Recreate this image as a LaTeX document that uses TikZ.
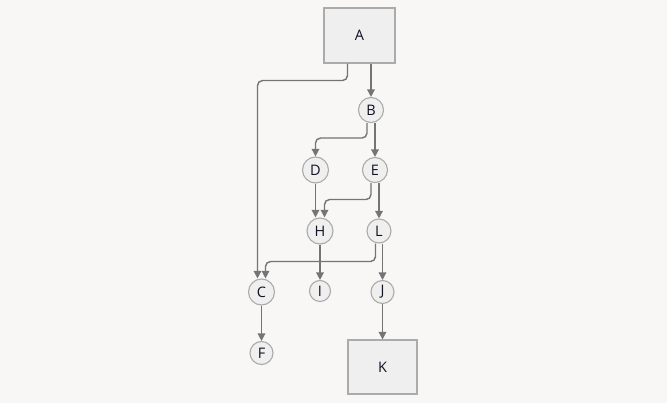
\documentclass[tikz,border=0pt]{standalone}
\usepackage{fontspec}
\setmainfont{Open Sans}
\usetikzlibrary{arrows.meta,calc}
\definecolor{bgc}{HTML}{F8F7F5}
\definecolor{nfill}{HTML}{EFEFEF}
\definecolor{nline}{HTML}{ABABAB}
\definecolor{ecol}{HTML}{747474}
\definecolor{tcol}{HTML}{111122}
\tikzset{
  nd/.style={circle,draw=nline,fill=nfill,line width=1.1pt,inner sep=0pt,text=tcol,font=\fontsize{14.5}{16}\selectfont},
  bx/.style={rectangle,draw=nline,fill=nfill,line width=1.1pt,inner sep=0pt,text=tcol,font=\fontsize{14.5}{16}\selectfont},
  edge/.style={draw=ecol,line width=1.4pt,-{Triangle[length=7.5pt,width=7.5pt]},rounded corners=5pt}
}
\begin{document}
\begin{tikzpicture}[x=1pt,y=-1pt]
\fill[bgc] (0,0) rectangle (667,403);
\useasboundingbox (0,0) rectangle (667,403);
\node[bx,minimum width=71pt,minimum height=55pt] (A) at (359.5,35.5) {A};
\node[nd,minimum size=25pt] (B) at (371,110) {B};
\node[nd,minimum size=26pt] (D) at (315.5,170) {D};
\node[nd,minimum size=25pt] (E) at (375,170) {E};
\node[nd,minimum size=26pt] (H) at (320,231) {H};
\node[nd,minimum size=24pt] (L) at (379,231) {L};
\node[nd,minimum size=26pt] (C) at (261.5,292) {C};
\node[nd,minimum size=21pt] (I) at (320,291) {I};
\node[nd,minimum size=23pt] (J) at (382.5,292) {J};
\node[nd,minimum size=23pt] (F) at (261.5,353) {F};
\node[bx,minimum width=69pt,minimum height=54pt] (K) at (382.5,367) {K};
\draw[edge] ([xshift=11.5pt]A.south) -- (B.north);
\draw[edge] ([xshift=-12pt]A.south) -- ++(0,17) -| ([xshift=-4pt]C.north);
\draw[edge] ([xshift=-4pt]B.south) -- ++(0,15) -| (D.north);
\draw[edge] ([xshift=4pt]B.south) -- (E.north);
\draw[edge] (D.south) -- (D.south |- H.north);
\draw[edge] ([xshift=-4pt]E.south) -- ++(0,16.5) -| ([xshift=4.5pt]H.north);
\draw[edge] ([xshift=4pt]E.south) -- (L.north);
\draw[edge] (H.south) -- (I.north);
\draw[edge] ([xshift=-3.5pt]L.south) -- ++(0,18) -| ([xshift=4pt]C.north);
\draw[edge] ([xshift=3.5pt]L.south) -- (J.north);
\draw[edge] (J.south) -- (K.north);
\draw[edge] (C.south) -- (F.north);
\end{tikzpicture}
\end{document}
